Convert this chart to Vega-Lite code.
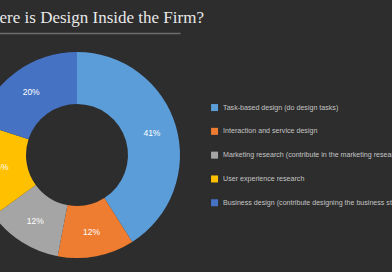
{
  "$schema": "https://vega.github.io/schema/vega-lite/v6.json",
  "autosize": "none",
  "width": 206,
  "height": 206,
  "padding": {"left": -26, "top": 52, "right": 212, "bottom": 14},
  "background": "#2d2d2d",
  "config": {"view": {"stroke": null}},
  "title": {
    "text": "Where is Design Inside the Firm?",
    "anchor": "start",
    "frame": "group",
    "font": "Liberation Serif",
    "fontSize": 17,
    "fontWeight": "normal",
    "color": "#e8e8e8",
    "offset": 6,
    "dx": 1
  },
  "data": {
    "values": [
      {"category": "Task-based design (do design tasks)", "share": 0.41},
      {"category": "Interaction and service design", "share": 0.12},
      {"category": "Marketing research (contribute in the marketing research)", "share": 0.12},
      {"category": "User experience research", "share": 0.15},
      {"category": "Business design (contribute designing the business strategy)", "share": 0.20}
    ]
  },
  "transform": [{"window": [{"op": "row_number", "as": "rank"}]}],
  "layer": [
    {
      "mark": {"type": "rule", "opacity": 0},
      "encoding": {
        "x": {
          "datum": 0,
          "type": "quantitative",
          "scale": {"domain": [0, 1]},
          "axis": {"orient": "top", "offset": 19, "domainColor": "#6e6e6e", "domainWidth": 1.5, "ticks": false, "labels": false, "grid": false, "title": null}
        }
      }
    },
    {
      "mark": {"type": "arc", "innerRadius": 51, "outerRadius": 103},
      "encoding": {
        "theta": {"field": "share", "type": "quantitative", "stack": true},
        "order": {"field": "rank", "type": "quantitative", "sort": "ascending"},
        "color": {
          "field": "category",
          "type": "nominal",
          "sort": null,
          "scale": {
            "domain": ["Task-based design (do design tasks)", "Interaction and service design", "Marketing research (contribute in the marketing research)", "User experience research", "Business design (contribute designing the business strategy)"],
            "range": ["#5b9dd9", "#ee7d31", "#a5a5a5", "#ffc000", "#4672c4"]
          },
          "legend": {
            "orient": "none",
            "legendX": 237,
            "legendY": 52,
            "title": null,
            "padding": 0,
            "symbolType": "square",
            "symbolSize": 49,
            "symbolStrokeWidth": 0,
            "labelFont": "Liberation Sans",
            "labelFontSize": 7.1,
            "labelColor": "#c4c4c4",
            "labelLimit": 600,
            "labelOffset": 5,
            "rowPadding": 14.8
          }
        }
      }
    },
    {
      "mark": {"type": "text", "radius": 78, "font": "Liberation Sans", "fontSize": 8.5, "fill": "#ffffff"},
      "encoding": {
        "theta": {"field": "share", "type": "quantitative", "stack": true},
        "order": {"field": "rank", "type": "quantitative", "sort": "ascending"},
        "detail": {"field": "category", "type": "nominal"},
        "text": {"field": "share", "type": "quantitative", "format": ".0%"}
      }
    }
  ]
}
